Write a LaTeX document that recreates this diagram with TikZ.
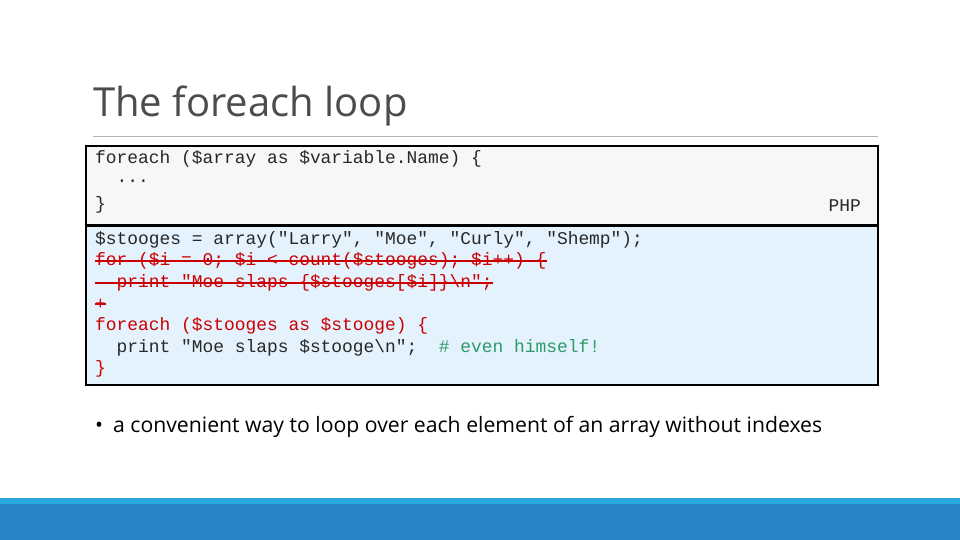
\documentclass[tikz,border=0pt]{standalone}
\usepackage{fontspec}
\setmainfont{Open Sans}
\newfontfamily\codefont{Liberation Mono}
\begin{document}
\begin{tikzpicture}[x=1pt,y=-1pt,
  code/.style={anchor=west,inner sep=0pt,text={rgb,255:red,40;green,40;blue,40},font=\codefont\fontsize{17.9}{20}\selectfont},
  box/.style={draw=black,line width=2pt}]
\definecolor{cred}{HTML}{CC0000}
\definecolor{cgreen}{HTML}{2E9A6A}
\definecolor{bandlight}{HTML}{29A8E0}
\definecolor{banddark}{HTML}{2784C7}
\useasboundingbox (0,0) rectangle (960,540);
\fill[white] (0,0) rectangle (960,540);
\fill[bandlight] (0,498) rectangle (960,504);
\fill[banddark] (0,504) rectangle (960,540);
\node[anchor=west,inner sep=0pt,font=\fontsize{40}{44}\selectfont] (title) at (93,106) {\color[gray]{0.3}The foreach loop};
\draw[gray!60,line width=1pt] (93,137) -- (878,137);
\draw[box,fill={rgb,255:red,247;green,247;blue,247}] (86,146) rectangle (878,225);
\draw[box,fill={rgb,255:red,227;green,242;blue,253}] (86,226) rectangle (878,385);
\node[code] (a1) at (95,159) {foreach (\$array as \$variable.Name) \{};
\node[code] (a2) at (95,181) {\ \ ...};
\node[code] (a3) at (95,205) {\}};
\node[code,anchor=east] (php) at (861,206) {PHP};
\node[code] (b1) at (95,240) {\$stooges = array("Larry", "Moe", "Curly", "Shemp");};
\node[code,text=cred] (b2) at (95,261) {for (\$i = 0; \$i < count(\$stooges); \$i++) \{};
\node[code,text=cred] (b3) at (95,283) {\ \ print "Moe slaps \{\$stooges[\$i]\}\textbackslash n";};
\draw[cred,line width=1.2pt] (b2.west) -- (b2.east);
\draw[cred,line width=1.2pt] (b3.west) -- (b3.east);
\node[code,text=cred] (b4) at (95,304) {+};
\draw[cred,line width=1.2pt] (b4.west) -- (b4.east);
\node[code,text=cred] (b5) at (95,326) {foreach (\$stooges as \$stooge) \{};
\node[code] (b6) at (95,348) {\ \ print "Moe slaps \$stooge\textbackslash n";\ \ {\color{cgreen}\# even himself!}};
\node[code,text=cred] (b7) at (95,369) {\}};
\node[anchor=west,inner sep=0pt,font=\fontsize{21.2}{24}\selectfont] (bul) at (95,427) {\textbullet\hspace{10pt}a convenient way to loop over each element of an array without indexes};
\end{tikzpicture}
\end{document}
